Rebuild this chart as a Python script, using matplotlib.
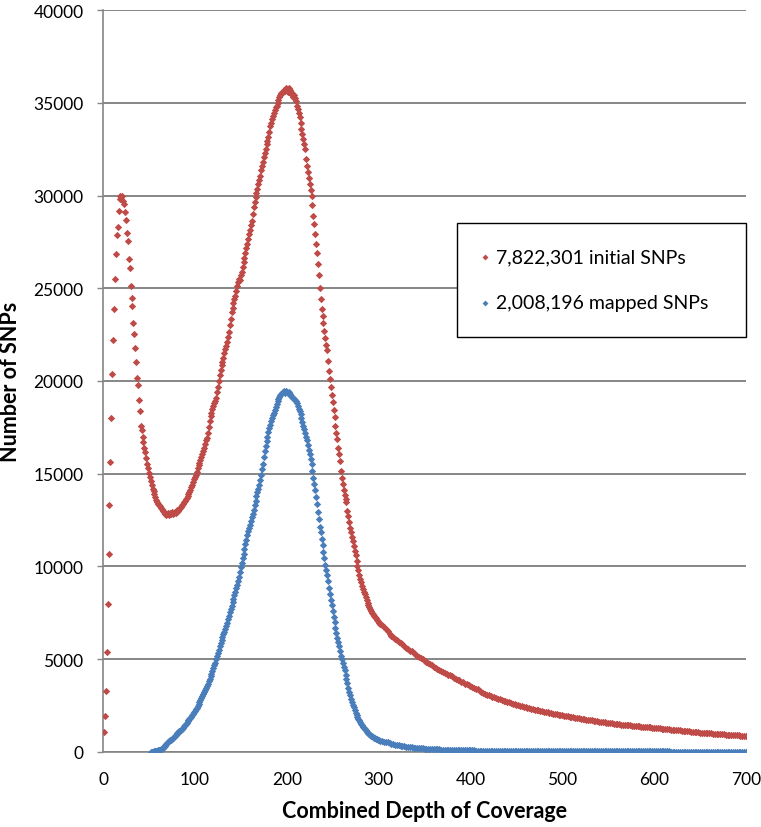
import numpy as np
import matplotlib.pyplot as plt

# depth of coverage (x) for each series
red_depth = np.concatenate([np.arange(1, 301), np.arange(302, 701, 2)])
blue_depth = np.concatenate([np.arange(52, 301), np.arange(302, 701, 2)])

# 7,822,301 initial SNPs, number of SNPs per depth
red_snps = [
    1100, 1950, 3300, 5400, 8000, 10700, 13300, 15650, 18000, 20400,
    22200, 23900, 25500, 26850, 27850, 28300, 29150, 29800, 30000, 29900,
    29950, 29700, 29540, 29100, 28700, 28000, 27550, 26600, 26100, 25100,
    24500, 24050, 23150, 22550, 21800, 21000, 20150, 19800, 18950, 18400,
    17600, 17350, 17000, 16700, 16400, 16150, 15850, 15550, 15300, 15050,
    14850, 14600, 14400, 14200, 14050, 13900, 13750, 13600, 13450, 13350,
    13300, 13250, 13150, 13100, 13000, 12950, 12850, 12900, 12800, 12850,
    12900, 12800, 12900, 12850, 12950, 12850, 12900, 12950, 12900, 13000,
    13050, 13000, 13100, 13150, 13200, 13300, 13350, 13450, 13550, 13650,
    13700, 13800, 13900, 14000, 14150, 14300, 14400, 14550, 14700, 14850,
    14950, 15100, 15300, 15450, 15600, 15750, 15900, 16050, 16200, 16400,
    16600, 16800, 16950, 17200, 17500, 17850, 18100, 18300, 18500, 18650,
    18800, 18900, 19100, 19400, 19700, 20000, 20350, 20600, 20850, 21050,
    21250, 21500, 21700, 21900, 22100, 22350, 22650, 23000, 23350, 23700,
    23950, 24200, 24400, 24600, 24850, 25100, 25350, 25500, 25450, 25700,
    25900, 26150, 26400, 26650, 26900, 27150, 27400, 27650, 27900, 28150,
    28400, 28650, 29000, 29400, 29650, 29900, 30150, 30350, 30600, 30850,
    31050, 31350, 31600, 31800, 32050, 32300, 32500, 32750, 32950, 33150,
    33450, 33750, 33900, 34100, 34300, 34450, 34600, 34750, 34850, 35000,
    35150, 35300, 35400, 35500, 35550, 35600, 35700, 35650, 35800, 35750,
    35600, 35800, 35700, 35500, 35600, 35450, 35300, 35400, 35250, 35100,
    34850, 34650, 34450, 34250, 33900, 33600, 33300, 33050, 32800, 32500,
    31950, 31600, 31250, 30950, 30600, 30300, 29950, 29500, 28900, 28450,
    27900, 27400, 26900, 26300, 25700, 25000, 24400, 23900, 23500, 23100,
    22700, 22300, 21950, 21650, 21100, 20550, 20100, 19650, 19250, 18850,
    18450, 18050, 17600, 17200, 16850, 16400, 16050, 15700, 15150, 14750,
    14450, 14100, 13850, 13650, 13450, 13000, 12700, 12400, 12100, 11850,
    11600, 11350, 11100, 10850, 10600, 10300, 10000, 9800, 9550, 9300,
    9150, 8950, 8800, 8650, 8500, 8350, 8200, 8050, 7950, 7800,
    7700, 7600, 7500, 7450, 7350, 7300, 7200, 7100, 7050, 6950,
    # every second depth from 302
    6880, 6830, 6750, 6620, 6500, 6380, 6270, 6180, 6100, 6020,
    5950, 5880, 5800, 5720, 5630, 5560, 5470, 5420, 5350, 5280,
    5200, 5130, 5070, 4990, 4920, 4860, 4790, 4730, 4680, 4600,
    4540, 4470, 4420, 4350, 4310, 4260, 4200, 4170, 4130, 4070,
    4010, 3950, 3900, 3860, 3790, 3750, 3690, 3650, 3600, 3550,
    3500, 3460, 3410, 3370, 3270, 3220, 3170, 3130, 3090, 3050,
    3010, 2980, 2940, 2900, 2870, 2830, 2800, 2760, 2740, 2700,
    2670, 2640, 2610, 2570, 2540, 2520, 2490, 2460, 2440, 2410,
    2390, 2360, 2340, 2310, 2290, 2270, 2240, 2220, 2200, 2180,
    2160, 2130, 2110, 2090, 2070, 2050, 2030, 2010, 1990, 1970,
    1960, 1940, 1920, 1900, 1880, 1870, 1850, 1830, 1810, 1800,
    1780, 1760, 1750, 1730, 1710, 1700, 1680, 1670, 1650, 1640,
    1620, 1610, 1590, 1580, 1570, 1550, 1540, 1530, 1510, 1500,
    1490, 1480, 1470, 1460, 1450, 1440, 1430, 1420, 1410, 1400,
    1390, 1380, 1370, 1360, 1350, 1340, 1330, 1320, 1310, 1300,
    1290, 1280, 1270, 1260, 1250, 1240, 1230, 1220, 1210, 1200,
    1190, 1180, 1170, 1160, 1150, 1140, 1130, 1120, 1110, 1100,
    1090, 1080, 1070, 1060, 1050, 1040, 1035, 1030, 1020, 1010,
    1000, 990, 985, 980, 970, 960, 955, 950, 940, 930,
    925, 920, 910, 900, 895, 890, 880, 875, 870, 860,
]

# 2,008,196 mapped SNPs
blue_snps = [
    10, 15, 20, 25, 35, 45, 60, 75, 90, 105,
    120, 140, 160, 200, 250, 310, 370, 420, 470, 520,
    570, 620, 660, 700, 750, 800, 860, 910, 960, 1010,
    1060, 1110, 1150, 1200, 1250, 1310, 1380, 1450, 1510, 1580,
    1650, 1710, 1780, 1850, 1910, 1980, 2060, 2140, 2220, 2300,
    2390, 2490, 2590, 2690, 2800, 2900, 3010, 3120, 3230, 3340,
    3450, 3560, 3690, 3820, 3950, 4090, 4230, 4370, 4520, 4670,
    4820, 4990, 5160, 5340, 5520, 5700, 5880, 6060, 6200, 6340,
    6480, 6620, 6800, 6980, 7160, 7340, 7520, 7700, 7870, 8060,
    8250, 8440, 8630, 8820, 9010, 9200, 9450, 9700, 9950, 10200,
    10450, 10700, 10950, 11200, 11450, 11700, 11900, 12050, 12250, 12450,
    12650, 12850, 13050, 13300, 13550, 13800, 14000, 14200, 14400, 14650,
    14950, 15250, 15550, 15900, 16250, 16500, 16750, 17000, 17250, 17450,
    17650, 17850, 18000, 18150, 18300, 18450, 18600, 18750, 18900, 19050,
    19150, 19250, 19300, 19350, 19400, 19450, 19350, 19450, 19400, 19350,
    19400, 19300, 19250, 19200, 19150, 19100, 19050, 18950, 18900, 18800,
    18650, 18500, 18400, 18200, 18000, 17800, 17600, 17400, 17200, 17000,
    16800, 16550, 16300, 16050, 15800, 15550, 15150, 14750, 14450, 14150,
    13750, 13350, 12950, 12550, 12150, 11850, 11500, 11150, 10800, 10450,
    10100, 9800, 9550, 9200, 8850, 8500, 8200, 7900, 7600, 7300,
    7000, 6700, 6400, 6150, 5950, 5700, 5450, 5200, 5000, 4800,
    4600, 4400, 4150, 3950, 3700, 3450, 3250, 3050, 2850, 2700,
    2550, 2400, 2250, 2100, 2000, 1900, 1800, 1700, 1600, 1520,
    1440, 1370, 1300, 1230, 1170, 1100, 1050, 1000, 960, 920,
    880, 840, 800, 770, 740, 710, 680, 650, 630,
    # every second depth from 302
    610, 590, 560, 540, 520, 480, 450, 420, 400, 380,
    360, 340, 320, 310, 290, 275, 260, 250, 240, 225,
    215, 205, 195, 190, 180, 175, 165, 160, 155, 150,
    145, 140, 135, 130, 125, 120, 118, 115, 110, 108,
    105, 102, 100, 98, 95, 93, 90, 88, 86, 84,
    82, 80, 79, 77, 76, 74, 73, 72, 70, 69,
    68, 67, 66, 65, 64, 63, 62, 61, 60, 60,
    59, 58, 57, 57, 56, 55, 55, 54, 53, 53,
    52, 52, 51, 50, 50, 49, 49, 48, 48, 47,
    47, 46, 46, 45, 45, 44, 44, 44, 43, 43,
    42, 42, 42, 41, 41, 40, 40, 40, 39, 39,
    39, 38, 38, 38, 37, 37, 37, 36, 36, 36,
    36, 35, 35, 35, 34, 34, 34, 34, 33, 33,
    33, 33, 32, 32, 32, 32, 31, 31, 31, 31,
    30, 30, 30, 30, 30, 29, 29, 29, 29, 29,
    28, 28, 28, 28, 27, 27, 27, 27, 26, 26,
    26, 26, 25, 25, 25, 25, 24, 24, 24, 24,
    23, 23, 23, 23, 22, 22, 22, 22, 21, 21,
    21, 21, 21, 20, 20, 20, 20, 20, 20, 20,
    20, 20, 20, 20, 20, 20, 20, 20, 20, 20,
]

series_labels = ["7,822,301 initial SNPs", "2,008,196 mapped SNPs"]
x_ticks = [0, 100, 200, 300, 400, 500, 600, 700]
y_ticks = [0, 5000, 10000, 15000, 20000, 25000, 30000, 35000, 40000]

red = "#BE4B48"
blue = "#4A7EBB"
grey = "#868686"

plt.rcParams['font.family'] = ['Lato', 'DejaVu Sans']

fig = plt.figure(figsize=(7.61, 8.28), dpi=100)
ax = fig.add_axes([0.1354, 0.0906, 0.8449, 0.8961])

ax.scatter(red_depth, red_snps, marker='D', s=14, color=red, linewidths=0,
           label=series_labels[0], zorder=3)
ax.scatter(blue_depth, blue_snps, marker='D', s=14, color=blue, linewidths=0,
           label=series_labels[1], zorder=3)

ax.set_xlim(0, 700)
ax.set_ylim(0, 40000)
ax.set_xticks(x_ticks)
ax.set_yticks(y_ticks)
ax.tick_params(axis='both', labelsize=12.5, colors='black')
ax.tick_params(axis='y', length=4, width=1, color=grey, pad=10)
ax.tick_params(axis='x', length=0, pad=14)

ax.grid(axis='y', color=grey, linewidth=1.4)
ax.set_axisbelow(True)
for side in ['top', 'right']:
    ax.spines[side].set_visible(False)
for side in ['left', 'bottom']:
    ax.spines[side].set_color(grey)
    ax.spines[side].set_linewidth(1.2)

ax.set_xlabel("Combined Depth of Coverage", fontsize=15.5, fontweight='bold', labelpad=9)
ax.set_ylabel("Number of SNPs", fontsize=15.5, fontweight='bold', labelpad=9)

# legend box: from x=0.55 to the right edge of the plot, top at ~27800
leg = ax.legend(loc='upper left', bbox_to_anchor=(0.5505, 0.553, 0.4495, 0.16),
                mode='expand', fontsize=14, frameon=True, fancybox=False,
                edgecolor='black', framealpha=1, markerscale=0.8,
                handletextpad=0.4, labelspacing=1.5, borderpad=1.3,
                handlelength=0.3, borderaxespad=0)
leg.get_frame().set_linewidth(1.0)

fig.savefig("out.png", dpi=100)
